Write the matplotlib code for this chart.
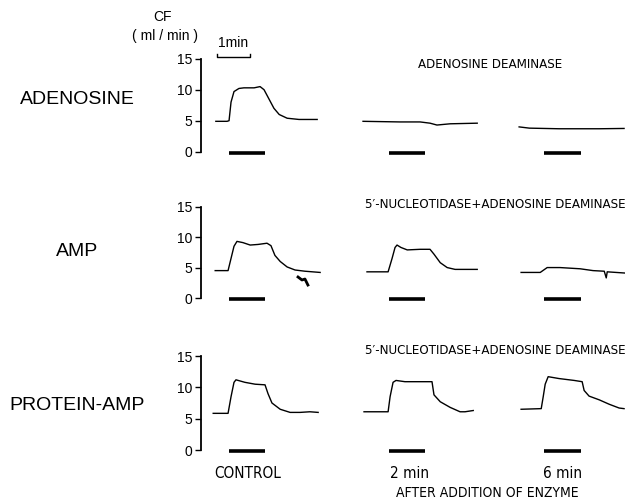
import matplotlib
matplotlib.use("Agg")
import matplotlib.pyplot as plt

# coronary flow (ml/min) vs time (min, relative to start of infusion)
# row 1: adenosine
t_ado_control = [-0.4, -0.06, 0.0, 0.06, 0.15, 0.3, 0.45, 0.76, 0.94, 1.06, 1.21, 1.36, 1.52, 1.76, 2.12, 2.67]
cf_ado_control = [4.9, 4.9, 5.0, 8.0, 9.7, 10.2, 10.3, 10.3, 10.5, 10.0, 8.5, 7.0, 6.0, 5.4, 5.2, 5.2]
t_ado_2min = [-0.79, 0.33, 0.94, 1.24, 1.45, 1.85, 2.67]
cf_ado_2min = [4.9, 4.8, 4.8, 4.6, 4.3, 4.5, 4.6]
t_ado_6min = [-0.76, -0.45, 0.45, 1.67, 2.42]
cf_ado_6min = [4.0, 3.8, 3.7, 3.7, 3.75]

# row 2: AMP
t_amp_control = [-0.42, -0.03, 0.06, 0.15, 0.24, 0.42, 0.64, 0.88, 1.15, 1.27, 1.39, 1.55, 1.76, 2.0, 2.3, 2.76]
cf_amp_control = [4.5, 4.5, 6.5, 8.5, 9.3, 9.1, 8.7, 8.8, 9.0, 8.6, 7.0, 6.0, 5.1, 4.6, 4.4, 4.2]
t_amp_2min = [-0.67, -0.03, 0.09, 0.18, 0.24, 0.36, 0.55, 0.94, 1.24, 1.36, 1.55, 1.76, 2.0, 2.67]
cf_amp_2min = [4.3, 4.3, 6.5, 8.3, 8.7, 8.3, 7.9, 8.0, 8.0, 7.2, 5.8, 5.0, 4.7, 4.7]
t_amp_6min = [-0.7, -0.12, 0.09, 0.48, 1.09, 1.48, 1.82, 1.88, 1.91, 2.45]
cf_amp_6min = [4.2, 4.2, 5.0, 5.0, 4.8, 4.5, 4.4, 3.3, 4.3, 4.1]
# pen artefact under the AMP control trace
t_amp_artefact = [2.09, 2.21, 2.3, 2.39]
cf_amp_artefact = [3.45, 2.96, 3.12, 2.13]

# row 3: protein-AMP
t_pamp_control = [-0.48, -0.03, 0.06, 0.15, 0.21, 0.48, 0.79, 1.09, 1.18, 1.3, 1.55, 1.85, 2.15, 2.45, 2.7]
cf_pamp_control = [5.85, 5.85, 8.5, 10.8, 11.2, 10.8, 10.5, 10.4, 9.0, 7.5, 6.5, 6.0, 6.0, 6.1, 6.0]
t_pamp_2min = [-0.76, -0.03, 0.03, 0.12, 0.21, 0.48, 0.94, 1.3, 1.36, 1.55, 1.85, 2.15, 2.3, 2.55]
cf_pamp_2min = [6.1, 6.1, 8.5, 10.8, 11.1, 10.9, 10.9, 10.9, 8.8, 7.7, 6.8, 6.1, 6.1, 6.3]
t_pamp_6min = [-0.7, -0.09, -0.03, 0.03, 0.12, 0.45, 0.91, 1.15, 1.21, 1.36, 1.67, 1.97, 2.12, 2.27, 2.42]
cf_pamp_6min = [6.5, 6.6, 8.5, 10.5, 11.7, 11.4, 11.1, 10.9, 9.5, 8.6, 8.0, 7.3, 7.0, 6.7, 6.6]

row_labels = ["ADENOSINE", "AMP", "PROTEIN-AMP"]
enzyme_labels = ["ADENOSINE DEAMINASE",
                 "5\u2032-NUCLEOTIDASE+ADENOSINE DEAMINASE",
                 "5\u2032-NUCLEOTIDASE+ADENOSINE DEAMINASE"]
column_labels = ["CONTROL", "2 min", "6 min"]
y_ticks = [0, 5, 10, 15]
infusion_min = 1.1

rows = [
    [(t_ado_control, cf_ado_control), (t_ado_2min, cf_ado_2min), (t_ado_6min, cf_ado_6min)],
    [(t_amp_control, cf_amp_control), (t_amp_2min, cf_amp_2min), (t_amp_6min, cf_amp_6min)],
    [(t_pamp_control, cf_pamp_control), (t_pamp_2min, cf_pamp_2min), (t_pamp_6min, cf_pamp_6min)],
]

W, H = 625, 503
plt.rcParams["font.family"] = ["Liberation Sans", "DejaVu Sans"]
cond = dict(family="DejaVu Sans", fontstretch="condensed")


def fx(x):
    return x / W


def fy(y):
    return 1 - y / H


# axes boxes in pixels: left, y of 0, y of 15
row_boxes = [(201, 151.7, 58.7), (201, 298.0, 206.7), (201, 450.0, 356.0)]
panel_onset = [0.85, 5.7, 10.4]  # where each infusion starts on the row's time axis
x_span = (W - 201) / 33.0

fig = plt.figure(figsize=(W / 100, H / 100), dpi=100)
axes = []
for (x0, yb, yt), traces in zip(row_boxes, rows):
    ax = fig.add_axes([fx(x0), fy(yb), 1 - fx(x0), (yb - yt) / H])
    for onset, (t, cf) in zip(panel_onset, traces):
        ax.plot([onset + v for v in t], cf, color="black", lw=1.0, clip_on=False)
        ax.plot([onset, onset + infusion_min], [-0.2, -0.2], color="black", lw=2.6,
                solid_capstyle="butt", clip_on=False)
    ax.set_xlim(0, x_span)
    ax.set_ylim(0, 15)
    for s in ["top", "right", "bottom"]:
        ax.spines[s].set_visible(False)
    ax.spines["left"].set_linewidth(1.3)
    ax.set_xticks([])
    ax.set_yticks(y_ticks)
    ax.tick_params(axis="y", direction="out", length=4, width=1.0, labelsize=10, pad=2)
    ax.patch.set_alpha(0)
    axes.append(ax)

axes[1].plot([panel_onset[0] + v for v in t_amp_artefact], cf_amp_artefact,
             color="black", lw=2.0, clip_on=False)

# 1 min scale bracket
ax = axes[0]
ax.plot([0.48, 0.48, 1.48, 1.48], [15.7, 15.2, 15.2, 15.7], color="black", lw=1.0, clip_on=False)
fig.text(fx(233), fy(43), "1min", ha="center", va="center", fontsize=10)

fig.text(fx(163), fy(17), "CF", ha="center", va="center", fontsize=10)
fig.text(fx(165), fy(36), "( ml / min )", ha="center", va="center", fontsize=10)

for lab, y in zip(row_labels, [100, 252, 405]):
    fig.text(fx(77), fy(y), lab, ha="center", va="center", fontsize=14)

for lab, x, y in zip(enzyme_labels, [490, 495, 495], [64, 205, 351]):
    fig.text(fx(x), fy(y), lab, ha="center", va="center", fontsize=9.5, **cond)

for lab, x in zip(column_labels, [248, 410, 563]):
    fig.text(fx(x), fy(473), lab, ha="center", va="center", fontsize=11, **cond)
fig.text(fx(487), fy(493), "AFTER ADDITION OF ENZYME", ha="center", va="center", fontsize=10, **cond)

fig.savefig("out.png", dpi=100)
